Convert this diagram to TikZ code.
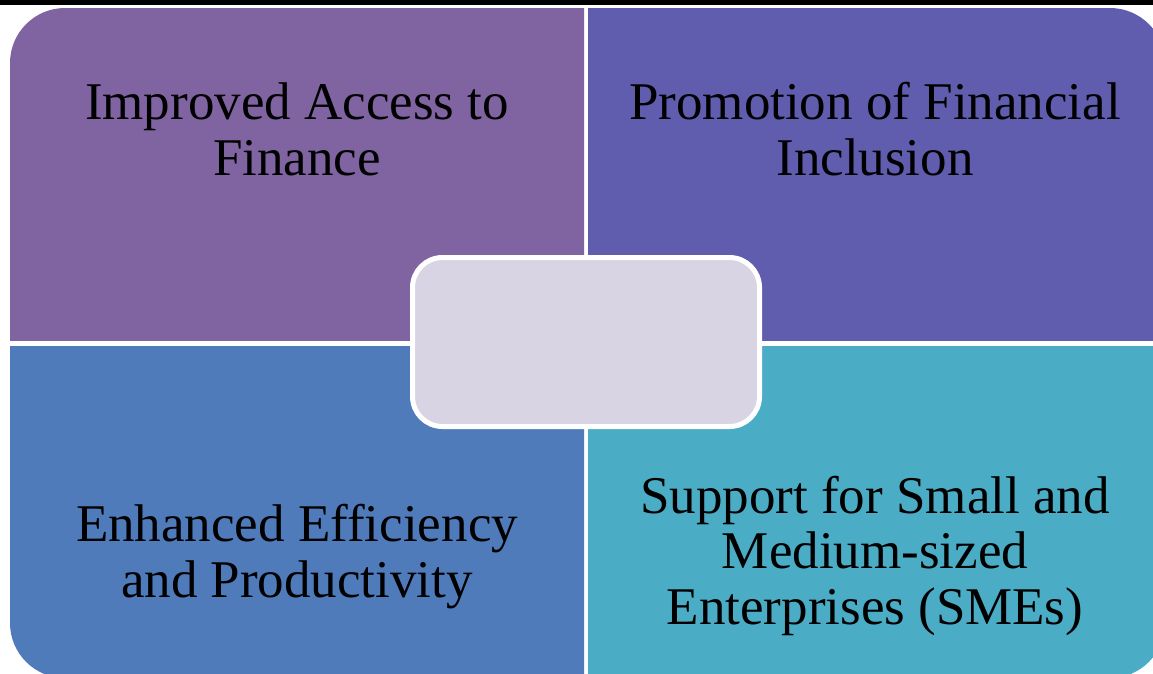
\documentclass[tikz,border=0pt]{standalone}
\usepackage{fontspec}
\setmainfont{Liberation Serif}
\definecolor{qtl}{HTML}{8064A2}
\definecolor{qtr}{HTML}{605CAE}
\definecolor{qbl}{HTML}{507BBB}
\definecolor{qbr}{HTML}{4BACC6}
\definecolor{corec}{HTML}{D8D4E3}
\tikzset{
  qtext/.style={align=center, anchor=base, text=black, inner sep=0pt,
    font=\fontsize{53}{55.5}\selectfont},
  corebox/.style={draw=white, line width=5pt, fill=corec, rounded corners=30pt,
    minimum width=347pt, minimum height=169pt, inner sep=0pt},
}
\begin{document}
\begin{tikzpicture}[x=1pt, y=-1pt]
\useasboundingbox (0,0) rectangle (1153,673);
\clip (0,0) rectangle (1153,673);
\fill[white] (0,0) rectangle (1153,673);
\fill[black] (0,0) rectangle (1153,5);
% top-left quadrant
\begin{scope}
  \clip (10,8) rectangle (584,340);
  \fill[qtl, rounded corners=55pt] (10,8) rectangle (800,600);
\end{scope}
% top-right quadrant
\begin{scope}
  \clip (588,8) rectangle (1165,340);
  \fill[qtr, rounded corners=55pt] (300,8) rectangle (1165,600);
\end{scope}
% bottom-left quadrant
\begin{scope}
  \clip (10,346) rectangle (584,678);
  \fill[qbl, rounded corners=55pt] (10,100) rectangle (800,678);
\end{scope}
% bottom-right quadrant
\begin{scope}
  \clip (588,346) rectangle (1165,678);
  \fill[qbr, rounded corners=55pt] (300,100) rectangle (1165,678);
\end{scope}
\node[qtext] (tl) at (297,175) {Improved Access to\\Finance};
\node[qtext] (tr) at (875,175) {Promotion of Financial\\Inclusion};
\node[qtext] (bl) at (297,597) {Enhanced Efficiency\\and Productivity};
\node[qtext] (br) at (875,624) {Support for Small and\\Medium-sized\\Enterprises (SMEs)};
\node[corebox] (core) at (586,342) {};
\end{tikzpicture}
\end{document}
